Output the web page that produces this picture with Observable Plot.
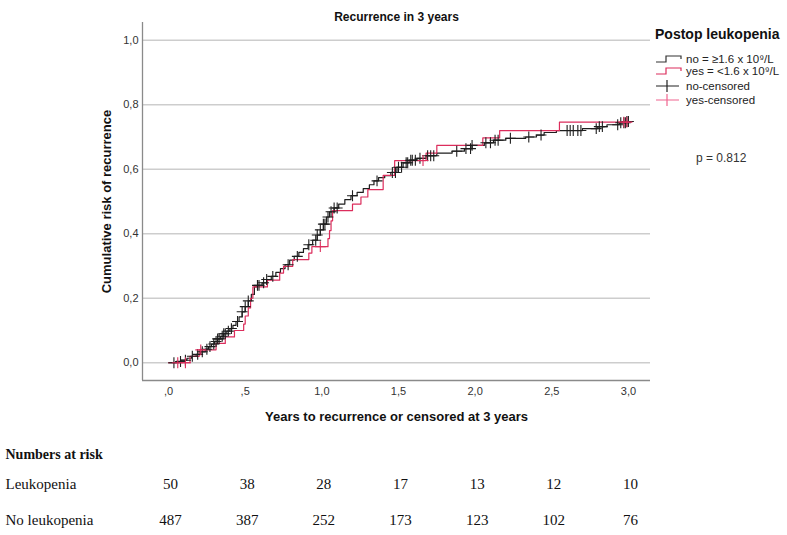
<!DOCTYPE html>
<html>
<head>
<meta charset="utf-8">
<script src="https://cdn.jsdelivr.net/npm/d3@7"></script>
<script src="https://cdn.jsdelivr.net/npm/@observablehq/plot@0.6"></script>
<style>
  body { margin: 0; background: #fff; }
  #wrap { position: relative; width: 787px; height: 535px; }
  #legend { position: absolute; left: 0; top: 0; pointer-events: none; }
</style>
</head>
<body>
<div id="wrap"></div>
<script>
// Kaplan–Meier cumulative incidence, recurrence within 3 years, by postoperative leukopenia.

// Step points [years, cumulative risk] – no leukopenia (≥1.6 x 10⁹/L)
const noTime = [0.00,0.05,0.08,0.12,0.15,0.18,0.21,0.24,0.26,0.28,0.30,0.32,0.34,0.36,0.38,0.40,0.42,0.44,0.46,0.48,0.50,0.52,0.54,0.56,0.58,0.61,0.64,0.67,0.70,0.73,0.76,0.79,0.82,0.85,0.88,0.91,0.94,0.97,0.99,1.01,1.03,1.05,1.08,1.11,1.15,1.19,1.23,1.27,1.31,1.34,1.37,1.41,1.45,1.49,1.53,1.57,1.62,1.68,1.75,1.85,1.93,1.98,2.06,2.12,2.20,2.33,2.40,2.45,2.53,2.70,2.80,2.86,2.94,2.99];
const noRisk = [0,0.004,0.008,0.014,0.020,0.026,0.034,0.042,0.050,0.058,0.066,0.074,0.082,0.090,0.098,0.106,0.116,0.128,0.142,0.158,0.174,0.192,0.212,0.235,0.240,0.248,0.258,0.268,0.280,0.292,0.304,0.318,0.330,0.342,0.354,0.366,0.380,0.396,0.412,0.430,0.452,0.468,0.480,0.492,0.506,0.518,0.528,0.540,0.552,0.564,0.574,0.580,0.590,0.606,0.620,0.628,0.634,0.642,0.650,0.656,0.664,0.674,0.682,0.690,0.696,0.700,0.706,0.714,0.720,0.726,0.732,0.738,0.744,0.748];

// Step points – leukopenia (<1.6 x 10⁹/L)
const yesTime = [0,0.14,0.20,0.31,0.37,0.43,0.49,0.50,0.52,0.535,0.55,0.645,0.725,0.75,0.81,0.915,0.935,1.04,1.05,1.06,1.07,1.20,1.255,1.30,1.40,1.475,1.68,1.75,2.05,2.16,2.55,3.0];
const yesRisk = [0,0.02,0.04,0.06,0.08,0.10,0.12,0.145,0.17,0.20,0.235,0.256,0.278,0.299,0.32,0.34,0.36,0.385,0.41,0.44,0.472,0.492,0.514,0.537,0.581,0.627,0.65,0.674,0.697,0.72,0.746,0.746];

// Censoring times (years)
const noCensored = [0.035,0.078,0.11,0.155,0.19,0.22,0.25,0.27,0.295,0.31,0.32,0.33,0.35,0.36,0.37,0.39,0.41,0.45,0.48,0.50,0.52,0.58,0.59,0.62,0.64,0.68,0.78,0.84,0.915,0.96,0.97,0.99,1.01,1.02,1.04,1.06,1.08,1.10,1.20,1.36,1.46,1.48,1.50,1.52,1.55,1.56,1.58,1.59,1.61,1.64,1.69,1.71,1.73,1.88,1.94,1.97,1.98,2.07,2.10,2.13,2.15,2.23,2.35,2.43,2.60,2.62,2.64,2.67,2.69,2.79,2.81,2.83,2.93,2.95,2.97,2.98,2.99,3.0];
const yesCensored = [0.06,0.11,0.21,0.99,1.66,2.97,2.99];

// Numbers at risk
const riskTimes = [0,0.5,1,1.5,2,2.5,3];
const riskLeukopenia = [50,38,28,17,13,12,10];
const riskNoLeukopenia = [487,387,252,173,123,102,76];

// Axis ticks and their labels
const xTicks = [0,0.5,1,1.5,2,2.5,3];
const xTickLabels = [",0",",5","1,0","1,5","2,0","2,5","3,0"];
const yTicks = [0,0.2,0.4,0.6,0.8,1.0];
const yTickLabels = ["0,0","0,2","0,4","0,6","0,8","1,0"];

const colorNo = "#1e1e1e";
const colorYes = "#dc2d5c";

const noSeries = noTime.map((t, i) => ({t, r: noRisk[i]}));
const yesSeries = yesTime.map((t, i) => ({t, r: yesRisk[i]}));

// Value of a step curve at time t (last step at or before t)
function stepValue(series, t) {
  let v = series[0].r;
  for (const p of series) { if (p.t <= t) v = p.r; else break; }
  return v;
}
const noCens = noCensored.map(t => ({t, r: stepValue(noSeries, t)}));
const yesCens = yesCensored.map(t => ({t, r: stepValue(yesSeries, t)}));

const xDomain = [-0.17, 3.144];
const yDomain = [-0.055, 1.055];
const sans = "'Liberation Sans', Arial, sans-serif";
const serif = "'Liberation Serif', 'Times New Roman', serif";

const chart = Plot.plot({
  width: 787,
  height: 535,
  marginLeft: 142,
  marginRight: 137,
  marginTop: 22,
  marginBottom: 155,
  x: {domain: xDomain},
  y: {domain: yDomain},
  style: {fontFamily: sans, fontSize: "11px", color: "#333", background: "#fff"},
  marks: [
    Plot.gridY(yTicks, {stroke: "#cdcdcd", strokeOpacity: 1, strokeWidth: 1.3}),
    Plot.ruleX([xDomain[0]], {stroke: "#8a8a8a", strokeWidth: 1.3}),
    Plot.ruleY([yDomain[0]], {stroke: "#8a8a8a", strokeWidth: 1.3}),
    Plot.axisY(yTicks, {tickSize: 0, tickPadding: 4, label: null,
      tickFormat: d => yTickLabels[yTicks.indexOf(d)], fill: "#333"}),
    Plot.axisX(xTicks, {tickSize: 0, tickPadding: 7, label: null,
      tickFormat: d => xTickLabels[xTicks.indexOf(d)], fill: "#333"}),
    Plot.line(noSeries, {x: "t", y: "r", curve: "step-after", stroke: colorNo, strokeWidth: 1.2}),
    Plot.line(yesSeries, {x: "t", y: "r", curve: "step-after", stroke: colorYes, strokeWidth: 1.2}),
    Plot.dot(noCens, {x: "t", y: "r", symbol: "plus", r: 3.6, stroke: colorNo, strokeWidth: 1.1}),
    Plot.dot(yesCens, {x: "t", y: "r", symbol: "plus", r: 3.6, stroke: colorYes, strokeWidth: 1.1}),
    // titles
    Plot.text(["Recurrence in 3 years"], {frameAnchor: "top", dy: -10, fontWeight: "bold",
      fontSize: 12, fill: "#111", textAnchor: "middle", fontFamily: sans}),
    Plot.text(["Cumulative risk of recurrence"], {frameAnchor: "left", dx: -36, rotate: -90,
      fontWeight: "bold", fontSize: 13, fill: "#111", textAnchor: "middle", fontFamily: sans}),
    Plot.text(["Years to recurrence or censored at 3 years"], {frameAnchor: "bottom", dy: 40,
      fontWeight: "bold", fontSize: 13, fill: "#111", textAnchor: "middle", fontFamily: sans}),
    // numbers at risk table
    Plot.text(["Numbers at risk"], {frameAnchor: "bottom-left", dx: -137, dy: 78, textAnchor: "start",
      fontWeight: "bold", fontSize: 14, fill: "#111", fontFamily: serif}),
    Plot.text(["Leukopenia"], {frameAnchor: "bottom-left", dx: -137, dy: 108, textAnchor: "start",
      fontSize: 15, fill: "#111", fontFamily: serif}),
    Plot.text(["No leukopenia"], {frameAnchor: "bottom-left", dx: -137, dy: 144, textAnchor: "start",
      fontSize: 15, fill: "#111", fontFamily: serif}),
    Plot.text(riskTimes, {x: d => d, text: (d, i) => String(riskLeukopenia[i]), frameAnchor: "bottom",
      dy: 108, dx: 2, fontSize: 15, fill: "#111", fontFamily: serif}),
    Plot.text(riskTimes, {x: d => d, text: (d, i) => String(riskNoLeukopenia[i]), frameAnchor: "bottom",
      dy: 144, dx: 2, fontSize: 15, fill: "#111", fontFamily: serif})
  ]
});

const wrap = document.getElementById("wrap");
wrap.appendChild(chart);

// Legend and log-rank p value, drawn to the right of the plot
const legend = d3.select(wrap).append("svg")
  .attr("id", "legend").attr("width", 787).attr("height", 535)
  .style("font-family", sans);

legend.append("text").attr("x", 655).attr("y", 39)
  .attr("font-size", 14).attr("font-weight", "bold").attr("fill", "#111")
  .text("Postop leukopenia");

const items = [
  {label: "no = ≥1.6 x 10⁹/L", color: "#333", kind: "step", y: 59},
  {label: "yes = <1.6 x 10⁹/L", color: colorYes, kind: "step", y: 71},
  {label: "no-censored", color: "#222", kind: "plus", y: 86},
  {label: "yes-censored", color: "#f0658f", kind: "plus", y: 100}
];
for (const it of items) {
  if (it.kind === "step") {
    legend.append("path")
      .attr("d", `M656,${it.y + 3}H666V${it.y - 3}H681V${it.y}`)
      .attr("fill", "none").attr("stroke", it.color).attr("stroke-width", 1.2);
  } else {
    legend.append("path")
      .attr("d", `M656,${it.y}H679M667,${it.y - 6}V${it.y + 6}`)
      .attr("fill", "none").attr("stroke", it.color).attr("stroke-width", 1.2);
  }
  legend.append("text").attr("x", 686).attr("y", it.y).attr("dy", "0.35em")
    .attr("font-size", 11.5).attr("fill", "#222").text(it.label);
}

legend.append("text").attr("x", 696).attr("y", 158).attr("dy", "0.35em")
  .attr("font-size", 12).attr("fill", "#333").text("p = 0.812");
</script>
</body>
</html>
